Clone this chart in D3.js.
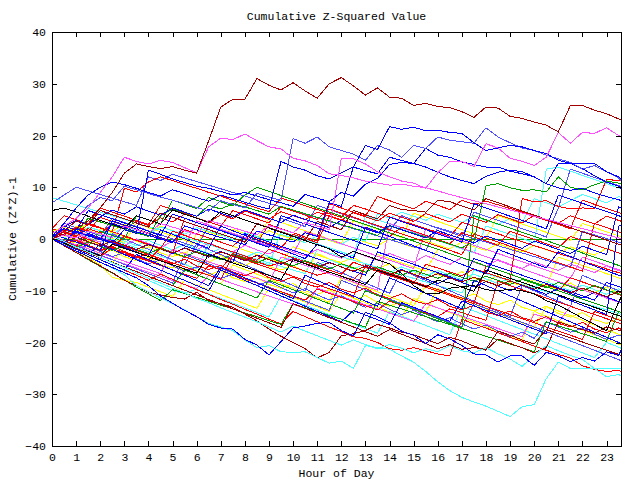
<!DOCTYPE html>
<html><head><meta charset="utf-8">
<script src="https://cdn.jsdelivr.net/npm/d3@7"></script>
<style>
body{margin:0;background:#fff}
svg{display:block}
text{font-family:"Liberation Mono","DejaVu Sans Mono",monospace;font-size:11.5px;fill:#000}
</style>
</head><body><svg id="c" width="640" height="480"></svg>
<script>
const title = "Cumulative Z-Squared Value";
const xLabel = "Hour of Day";
const yLabel = "Cumulative (Z*Z)-1";
const hours = [0,0.5,1,1.5,2,2.5,3,3.5,4,4.5,5,5.5,6,6.5,7,7.5,8,8.5,9,9.5,10,10.5,11,11.5,12,12.5,13,13.5,14,14.5,15,15.5,16,16.5,17,17.5,18,18.5,19,19.5,20,20.5,21,21.5,22,22.5,23,23.5,23.75];
const xTicks = [0,1,2,3,4,5,6,7,8,9,10,11,12,13,14,15,16,17,18,19,20,21,22,23];
const yTicks = [-40,-30,-20,-10,0,10,20,30,40];

const darkRedTop = [0,1,2,3.5,6,9,12.7,14.5, 14,13.6,14,13.3,12.7,19,25.5,27, 27,31,29.7,28.8,30.2,28.6,27.2,30, 31.2,29.6,27.8,29.2,27.4,27.2,25.8,26.2, 25.6,25.4,24.6,23.5,25.5,25.3,23.7,23.3, 22.6,22,20.7,25.8,25.8,24.9,24.2,23.2, 22.6];
const magentaA = [1,2.5,4,6,9,12,15.8,15, 14.5,15.2,14.8,13.8,12.8,17.8,19.5,19.2, 20.3,19,17.8,17.4,15.6,15.1,14.2,12.6, 12.3,11.8,11.2,10.8,10.4,10.6,10.2,9.9, 9.3,8.6,8,7.4,6.8,6.2,5.6,5, 4.4,3.8,3.2,2.6,2,1.4,0.8,0.2, -0.1];
const magentaB = [0,0.8,0.2,1.5,1,0.3,2.5,1.8, 1.1,3,2.3,1.6,0.9,3.6,2.9,2.2, 1.5,0.8,2.6,1.9,1.2,3.2,2.5,1.8, 15.6,15.5,14.5,13,12,11.2,10.8,9.8, 12.8,15,15,14,18.4,17.6,15.6,15, 14.2,15.8,20.6,18.5,20.6,20.4,21.5,20, 19.4];
const blueLow = [0,-1.2,-2.3,-3.4,-4.5,-5.5,-6.5,-7.5, -9,-11,-12.4,-13.8,-15,-16.5,-17.2,-17.4, -19.4,-20.5,-22.4,-19.8,-17.2,-16.8,-16.3,-16.1, -17.7,-18.7,-14.2,-15,-16.2,-17.8,-18.6,-20.2, -18.5,-19.3,-20.6,-22.2,-22.4,-23.8,-22.6,-22.6, -24.4,-21.9,-22.6,-23.7,-22.9,-23.6,-21.8,-22.5, -20];
const cyanBottom = [0,-1.1,-2.3,-3.4,-4.5,-5.6,-6.9,-9, -10.2,-11.4,-12.5,-13.7,-15,-16.3,-17,-17.7, -19.5,-21,-20.6,-21.8,-21.9,-21.8,-22.9,-24, -23.6,-25,-20.6,-21,-21.3,-22.6,-23.8,-25.6, -27.6,-29.3,-30.6,-31.5,-32.3,-33.3,-34.3,-32.4, -32,-27,-23.8,-25,-25,-25,-25,-25, -25];
const cyanLow = [0.5,-0.5,-1.6,-2.5,-3.6,-4.6,-5.5,-6.6, -7.6,-8.5,-9.5,-10.4,-11.5,-12.3,-13.3,-14.2, -15.1,-16,-17,-18,-16.8,-17.8,-18.7,-19.6, -20.5,-19.5,-20.4,-21.2,-20.4,-21.1,-22,-21.2, -21.8,-20.6,-21.6,-22,-21,-22.2,-23.2,-24.6, -22.5,-20.6,-21.6,-22.5,-23.3,-25,-26.6,-26.2, -26.8];
const darkRedLow = [0,-1.3,-2.6,-3.9,-5.2,-6.5,-8,-9, -10.3,-10.8,-11.3,-11.6,-10.3,-11.9,-12.5,-13.2, -14.5,-15.8,-17.4,-18.8,-20,-21.2,-23,-21.9, -18.7,-18.3,-17.7,-16.5,-17.2,-18,-18.5,-19.4, -20.2,-19,-19.7,-20.7,-21.5,-19.3,-20.2,-21, -22,-21,-16,-16.8,-17.5,-18.2,-17,-17.6, -18];
const blueHigh = [0.5,3,6,8.5,10,11,10.5,9.8, 9,8.3,9.5,8.8,8,7.3,8.5,7.8, 7.1,6.4,5.8,15,13.9,13.3,12.2,11.6, 12.8,13.9,18.1,17.3,21.7,21.2,21.6,20.9, 21,20.6,20.4,18.6,17.1,17.6,18.1,17.8, 17.1,16.5,15.2,14.6,14.6,14.6,13,12, 11];
const lightBlueHigh = [1,2.5,4,6.5,8,7.4,10.2,9.5, 8.8,8.1,7.5,6.8,6.1,5.4,7.4,6.7, 6,8.8,8.1,7.5,19.4,18.5,19.7,17.8, 17.1,16.4,15.2,18.1,17.2,15.8,18.1,17.5, 19.7,19.1,18.8,18.5,21.5,19.7,18.6,17.6, 17.1,16.2,15.5,14.8,13.5,14.2,13,11.8, 10.5];
const blueC = [0,-0.8,1.5,0.8,0,3,2.2,1.4, 0.7,0,-0.7,2.5,1.8,1,0.3,-0.4, -1.1,1.5,0.8,0.1,-0.6,1.2,0.5,7, 6.3,13.9,13.2,12.6,15.8,15.2,14.6,17.5, 16.2,15.8,14.9,14.4,13.9,13.9,13.1,12.6, 12,10.7,14.6,14.6,13.6,12.2,11,10.2, 9];
const blueD = [0.3,2,1.3,0.6,-0.1,-0.8,1.8,1.1, 13.3,12.5,11.6,10.9,10.2,9.8,9.2,8.5, 9,8.3,7.6,7,6.3,8.6,7.9,7.2, 9,8.3,10.6,11.7,14.4,14.8,14.6,13.9, 12.9,12,11.3,10.7,12.1,12.9,13.3,13, 12,10.7,9.9,9.4,9.8,8.9,8.2,7.6, 7.2];
const blackA = [5.5,6,5.2,4.4,3.6,2.8,2,4.5, 3.7,2.9,5.6,4.8,4,3.2,5.3,4.5, 3.7,2.9,2.1,1.3,0.5,-0.3,-1.1,-1.9, -3.5,-2.4,-3.2,-4,-4.8,-6.7,-9,-10.5, -10.6,-9.5,-9.2,-9,-9.8,-10,-9.7,-10, -10.6,-11.9,-12.8,-14,-15.3,-16.5,-17.7,-12.2, -10];
const redA = [0.5,1.8,1.1,2.8,2.1,1.4,9.8,9.1, 11,12,11.3,10.5,9.8,9,8.3,7.5, 6.8,6,5.3,7.9,7.2,6.4,5.7,4.9, 4.2,6.5,5.8,5,4.3,3.5,2.8,2, 1.3,0.5,3.2,2.5,1.7,1,0.2,-0.5, -1.3,-2,-2.8,-3.5,-4.3,-5,-5.8,-6.5, -6.9];
const redB = [0,-1,-0.2,-1.2,-2.1,-1.4,-2.4,-3.3, -4.1,-1.7,-2.6,-3.5,-4.2,-5.1,-5.9,-2.8, -3.6,-4.4,-5.2,-4.6,-5.4,-6.2,-7,-6.4, -7.2,-7.9,-5.5,-6.3,-7.1,-7.8,-8.6,-4.9, -5.6,-6.4,-7.1,-5.8,-6.5,-7.3,-8,7.8, 7.2,7.4,6.3,5.8,6,5.9,11.5,11.3, 11.9];
const redC = [1.5,0.7,2.3,1.5,4.2,3.4,2.6,1.8, 1,0.2,-0.6,1.8,1,0.2,-0.6,-1.4, 0.7,-0.1,-0.9,-1.7,0.9,0.1,-0.7,4.5, 3.7,2.9,2.1,1.3,0.5,2.3,1.5,0.7, -0.1,-0.9,1.2,0.4,-0.4,-1.2,1.5,0.7, -0.1,-0.9,-1.7,0.5,-0.3,-1.1,-1.9,-2.7, -3.1];
const redD = [0,-0.8,-1.6,-2.5,-3.3,-1.8,-2.6,-3.5, -4.3,-5.1,-6,-6.8,-7.6,-5.2,-6,-6.9, -7.7,-8.5,-9.4,-10.2,-11,-11.8,-9.7,-10.5, -11.3,-12.1,-12.9,-13.7,-12,-12.8,-13.6,-14.3, -15,-13.5,-14.2,-15,-15.7,-8.2,-9,-9.8, -10.6,-11.4,-12.2,-13,-13.8,-14.6,-15.4,-16.2, -16.6];
const redE = [0,-1,-2,-3,-4,-5,-6,-7, -8,-6.8,-7.8,-8.8,-9.8,-10.7,-11.7,-12.6, -13.6,-14.5,-15.5,-16.4,-14,-15,-16,-17, -17.9,-18.9,-19.2,-20,-21.2,-21.5,-21,-21.6, -22.2,-22.6,-15.5,-16.4,-17.2,-18.1,-19,-19.8, -20.7,-21.5,-22.3,-23,-24.5,-25.2,-25.6,-25.4, -25.8];
const redF = [2,1.2,0.4,3,2.2,1.4,0.6,-0.2, -1,-1.8,1.5,0.7,-0.1,-0.9,-1.7,-2.5, -3.3,-4.1,-2,-2.8,-3.6,-4.4,-5.2,-6, -6.8,-4.5,-5.3,-6.1,-6.9,-7.7,-8.5,-9.3, -10.1,-10.9,-11.7,-12.5,-5.2,-6,-6.8,-7.6, -8.4,-9.2,-10,-7.5,-8.3,-9.1,-9.9,-10.7, -11.2];
const redG = [0,1.5,0.7,-0.1,-0.9,-1.7,0.5,-0.3, -1.1,-1.9,-2.7,4,3.2,2.4,1.6,0.8, 0,-0.8,2.8,2,1.2,0.4,-0.4,6.8, 6,5.2,4.4,8.2,7.4,6.6,5.8,7.3, 6.5,5.7,7.5,6.7,7.3,6.6,5.9,5.2, 4.4,3.6,2.8,2,7.5,6.7,5.9,5.1, 4.7];
const darkRedB = [0,1.5,3.5,2.7,5.5,4.7,3.9,3.1, 2.3,5,4.2,3.4,2.6,1.8,1,0.2, -0.6,3,2.2,1.4,0.6,-0.2,3.4,2.6, 1.8,5.5,4.7,3.9,6.5,5.7,5.5,5.2, 7.5,7.2,6.4,5.6,7.8,7,6.2,5.4, 4.6,3.8,3,2.2,1.4,0.6,-0.2,-1, -1.4];
const darkRedC = [0,-0.9,-1.8,-2.7,-3.6,-4.5,-5.4,-6.3, -7.2,-8.1,-9,-9.9,-10.8,-11.7,-12.6,-13.5, -14.4,-15.3,-16.2,-17.1,-12.5,-13.4,-14.3,-15.2, -16.1,-17,-17.9,-18.8,-17.5,-18.4,-19.3,-20.2, -21.2,-20.4,-21.3,-21,-21.3,-17.8,-18.6,-19.5, -20.3,-17.5,-18.3,-19.1,-19.9,-20.7,-21.5,-22.3, -22.7];
const blueE = [0,-0.9,2,1.1,0.2,-0.7,-1.6,-2.5, -3.4,1.8,0.9,0,-0.9,-1.8,2.5,1.6, 0.7,-0.2,-1.1,-2,-2.9,-3.8,-1,-1.9, -2.8,-3.7,2.3,1.4,0.5,-0.4,-1.3,-2.2, -3.1,-4,-4.9,-5.8,-6.7,-2,-2.9,-3.8, -4.7,-5.6,-2.5,-3.4,-4.3,-5.2,-6.1,-7, -7.4];
const blueF = [0,-1,-2,-3,-1,-2,-3,-4, -5,-6,-7,-8,-9,-10,-6,-7, -8,-9,-10,-11,-12,-13,-14,-15, -16,-13.8,-14.7,-15.6,-16.5,-12.3,-13.2,-14.1, -15,-15.9,-12,-12.9,-13.8,-14.7,-15.6,-16.5, -17.4,-18.3,-11,-11.9,-12.8,-13.7,-14.6,2.5, 3];
const blueG = [1,0.2,-0.6,-1.4,-2.2,3.5,2.7,1.9, 1.1,0.3,-0.5,-1.3,-2.1,-2.9,-3.7,-4.5, 1,0.2,-0.6,-1.4,-2.2,-3,-3.8,-4.6, -5.4,-6.2,-7,-2.5,-3.3,-4.1,-4.9,-5.7, -6.5,-7.3,-8.1,-3.8,-4.6,-5.4,-6.2,-7, -7.8,-8.6,-9.4,-10.2,-11,-11.8,-8.4,-9.2, -9.6];
const blueH = [0,2.5,1.7,5.5,4.7,3.9,3.1,2.3, 1.5,0.7,4.8,4,3.2,2.4,1.6,0.8, 0,-0.8,-1.6,4.5,3.7,2.9,2.1,1.3, 0.5,-0.3,-1.1,-1.9,4.2,3.4,2.6,1.8, 1,0.2,-0.6,6.8,6,5.2,4.4,3.6, 2.8,2,8.5,7.7,6.9,6.1,5.3,4.5, 4.1];
const lightBlueC = [0,-1,-2,-3,-4,1,0,-1, -2,-3,-4,-5,-1,-2,-3,-4, -5,-6,-7,-8,-9,-10,-4.5,-5.5, -6.5,-7.5,-8.5,-9.5,-10.5,-6,-7,-8, -9,-10,-11,-12,-13,-14,-15,-9, -10,-11,-12,-13,-7,-8,-9,-10, -10.5];
const lightBlueD = [7,8.5,10,9.3,8.6,7.9,7.2,6.5, 12,11.3,12.5,11.8,11.1,10.4,9.7,9, 8.3,7.6,6.9,6.2,5.5,4.8,4.1,3.4, 2.7,2,1.3,0.6,-0.1,-0.8,-1.5,-2.2, 2.2,1.5,0.8,0.1,-0.6,-1.3,-2,-2.7, -3.4,-4.1,-4.8,-5.5,1.5,0.8,0.1,-0.6, -1];
const lightBlueE = [0.5,-0.4,-1.3,-2.2,-3.1,-4,-4.9,-5.8, -6.7,-7.6,-8.5,-3,-3.9,-4.8,-5.7,-6.6, -7.5,-8.4,-9.3,-10.2,-11.1,-12,-12.9,-13.8, -8,-8.9,-9.8,-10.7,-11.6,-12.5,-13.4,-14.3, -15.2,-16.1,-17,-12.5,-13.4,-14.3,-15.2,-16.1, -17,-17.9,-18.8,-19.7,-20.6,-21.5,-22.4,-23.3, -23.8];
const lightBlueF = [0.5,3,2.2,1.4,0.6,4,3.2,2.4, 1.6,0.8,0,-0.8,-1.6,2.5,1.7,0.9, 0.1,-0.7,-1.5,4,3.2,2.4,6.5,5.7, 4.9,4.1,3.3,2.5,1.7,4.5,3.7,2.9, 2.1,1.3,0.5,5.2,4.4,3.6,2.8,2, 1.2,0.4,6,13.5,12.7,11.9,11.1,10.3, 9.9];
const lightBlueG = [0,-1,-2,-1.2,-2.4,-3.4,-2.6,-3.8, -4.8,-4,-5.2,-6.2,-5.4,-6.6,-7.6,-6.8, -8,-9,-8.2,-9.4,-10.4,-9.6,-10.8,-11.8, -11,-12.2,-13.2,-12.4,-13.6,-14.6,-13.8,-15, -16,-15.2,-16.4,-17.4,-16.6,-17.8,-18.8,-18, -19.2,-16,-17,-18,-17.2,-18.4,-19.4,-18.6, -19];
const magentaC = [0,-0.8,-1.6,-2.4,-3.2,-4,-4.8,-5.6, -6.4,-7.2,-8,-8.8,-9.6,-7,-7.8,-8.6, -9.4,-10.2,-11,-11.8,-12.6,-13.4,-9.5,-10.3, -11.1,-11.9,-12.7,-13.5,-14.3,-15.1,-15.9,-12.5, -13.3,-14.1,-14.9,-15.7,-16.5,-17.3,-18.1,-18.9, -14.5,-15.3,-16.1,-13,-13.8,-14.6,-15.4,-16.2, -16.6];
const magentaD = [0,1.8,1,0.2,-0.6,3.5,2.7,1.9, 1.1,0.3,-0.5,-1.3,3.5,2.7,1.9,1.1, 0.3,-0.5,-1.3,-2.1,-2.9,1.5,0.7,-0.1, -0.9,-1.7,-2.5,-3.3,-4.1,-4.9,-5.7,2, 1.2,0.4,-0.4,-1.2,-2,-2.8,-3.6,-4.4, -5.2,-6,-6.8,-7.6,-3.5,-4.3,-5.1,-5.9, -6.3];
const magentaE = [0.5,-0.3,-1.1,-1.9,-2.7,-3.5,-4.3,-5.1, -5.9,-6.7,-2,-2.8,-3.6,-4.4,-5.2,-6, -6.8,-7.6,-8.4,-3.5,-4.3,-5.1,-5.9,-6.7, -7.5,-8.3,-9.1,-9.9,3,2.2,1.4,0.6, -0.2,-1,-1.8,-2.6,-3.4,-4.2,-5,-5.8, -6.6,-7.4,-8.2,-9,-9.8,-10.6,-11.4,-12.2, -12.6];
const magentaF = [0,0.8,-0.1,-0.9,0.4,-0.5,-1.3,0, -0.9,-1.7,-0.4,-1.3,-2.1,-0.8,-1.7,-2.5, -1.2,-2.1,-2.9,-1.6,-2.5,-3.3,-2,-2.9, -3.7,-2.4,-3.3,-4.1,-2.8,-3.7,-4.5,-3.2, -4.1,-4.9,-3.6,-4.5,-5.3,-4,-4.9,-5.7, -4.4,-5.3,-6.1,-4.8,-5.7,-6.5,-5.2,-6.1, -6.5];
const yellowA = [0,-1.2,-2.4,-3.6,-5,-7.4,-8,-8.4, -9.3,-10.2,-11.1,-8,-8.9,-9.8,-10.7,-11.6, -12.5,-13.4,-9.5,-10.4,-11.3,-12.2,-13.1,-14, -10.5,-11.4,-12.3,-13.2,-14.1,-15,-11.5,-12.4, -13.3,-14.2,-15.1,-16,-16.9,-17.8,-18.7,-19.6, -14,-14.9,-15.8,-16.7,-17.6,-18.5,-19.4,-20.3, -20.7];
const yellowB = [0,0.8,0,-0.8,2,1.2,0.4,-0.4, -1.2,-2,-2.8,-3.6,1,0.2,-0.6,-1.4, -2.2,-3,-3.8,-4.6,-1.5,-2.3,-3.1,-3.9, -4.7,-5.5,-6.3,-3,-3.8,-4.6,-5.4,-6.2, -2,-2.8,-3.6,-4.4,-5.2,-6,-6.8,-7.6, -8.4,-9.2,-3.5,-4.3,-5.1,-5.9,-6.7,-7.5, -7.9];
const yellowC = [1,0.2,2.5,1.7,0.9,0.1,-0.7,3, 2.2,1.4,0.6,-0.2,-1,2.5,1.7,0.9, 0.1,-0.7,4,3.2,2.4,1.6,0.8,0, -0.8,3.5,2.7,1.9,1.1,0.3,5,4.2, 3.4,2.6,1.8,1,0.2,4.5,3.7,2.9, 2.1,1.3,0.5,-0.3,3,2.2,1.4,0.6, 0.2];
const yellowD = [0,-0.9,-1.8,-2.7,-3.6,-4.5,-1.5,-2.4, -3.3,-4.2,-5.1,-6,-6.9,-7.8,-8.7,-5, -5.9,-6.8,-7.7,-8.6,-9.5,-10.4,-11.3,-12.2, -7.5,-8.4,-9.3,-10.2,-11.1,-12,-12.9,-9, -9.9,-10.8,-11.7,-12.6,-13.5,-14.4,-15.3,-16.2, -17.1,-13,-13.9,-14.8,-15.7,-16.6,-17.5,-18.4, -18.8];
const yellowE = [0,-0.5,0.8,-0.2,-1.1,-0.4,-1.6,-2.3, -1.5,-2.7,-3.4,-2.6,-3.9,-4.5,-3.2,-4.4, -5.1,-4,-5.3,-6,-5.1,-6.4,-2.8,-3.9, -4.5,-3.6,-4.9,-5.7,-4.8,-6.1,-6.8,-5.6, -6.9,-7.5,-6.3,-7.6,-8.2,-7.1,-8.4,-9, -7.8,-9.1,-9.7,-8.5,-9.8,-10.4,-9.2,-10.5, -11];
const yellowF = [1.5,2.3,1.4,3.1,2.2,1.5,2.8,1.9, 1.2,2.5,1.6,0.9,2.2,1.3,0.6,1.9, 1,0.3,1.6,0.7,0,-0.7,0.6,-0.3, -1,0.3,-0.6,-1.3,0,-0.9,-1.6,-0.3, -1.2,-1.9,-0.6,-1.5,-2.2,-0.9,-1.8,-2.5, -1.2,-2.1,-2.8,-1.5,-2.4,-3.1,-1.8,-2.7, -3.2];
const yellowG = [0,-1.1,-0.6,-1.9,-2.8,-2.1,-3.4,-4.2, -3.5,-4.9,-5.6,-4.8,-6.2,-6.9,-6.1,-7.5, -8.2,-7.4,-8.8,-9.5,-8.6,-10,-10.7,-9.8, -11.2,-11.9,-10.9,-12.3,-13,-12,-13.4,-14.1, -9.5,-10.8,-11.5,-10.6,-12,-12.7,-11.8,-13.2, -13.9,-13,-14.4,-15.1,-14.2,-15.6,-16.3,-15.4, -16];
const cyanHighStart = [8,7.3,6.6,5.9,5.2,4.5,3.8,3.1, 2.4,1.7,1,0.3,-0.4,-1.1,-1.8,-2.5, -3.2,-3.9,-4.6,-5.3,-6,-6.7,-2,-2.7, -3.4,-4.1,-4.8,-5.5,-6.2,-6.9,-7.6,-8.3, -9,-9.7,-10.4,-6,-6.7,-7.4,-8.1,-8.8, -9.5,-10.2,-10.9,-11.6,-12.3,-13,-13.7,-14.4, -14.8];
const cyanLateJump = [0,-0.8,-1.6,1.5,0.7,-0.1,-0.9,-1.7, -2.5,-3.3,-4.1,-4.9,-5.7,-1,-1.8,-2.6, -3.4,-4.2,-5,1.5,0.7,-0.1,-0.9,-1.7, -2.5,-3.3,4.5,3.7,2.9,2.1,1.3,0.5, -0.3,-1.1,-1.9,-2.7,2.5,1.7,0.9,0.1, -0.7,13.5,13.9,13.1,12.3,11.5,10.7,9.9, 9.5];
const cyanMid = [0,-1,-2,-3,-4,-5,-6,-7, -8,-9,-10,-10.5,-9.7,-10.6,-11.5,-12.4, -13.3,-14.2,-15.1,-11,-11.9,-12.8,-13.7,-14.6, -15.5,-16.4,-17.3,-18.2,-14,-14.9,-15.8,-16.7, -17.6,-18.5,-13,-13.9,-14.8,-15.7,-16.6,-17.5, -18.4,-19.3,-20.2,-21.1,-22,-22.9,-20,-20.9, -21.4];
const cyanD = [1,0.2,1.2,0.3,-0.6,0.5,-0.4,-1.3, -0.3,-1.2,-2.1,-1,-1.9,-2.8,-1.8,-2.7, -3.6,-2.5,-3.4,-4.3,-3.3,-4.2,-5.1,-4, -4.9,-5.8,-4.7,-5.6,-6.5,-5.4,-6.3,-7.2, -6.1,-7,-7.9,-6.8,-7.7,-8.6,-7.5,-8.4, -9.3,-8.2,-9.1,-10,-8.9,-9.8,-10.7,-9.6, -10.2];
const cyanE = [0,1.5,0.8,2.3,1.6,0.9,2.4,1.7, 1,2.3,1.6,0.9,2.2,1.5,0.8,-0.1, 1.2,0.5,-0.4,0.9,0.2,-0.7,0.6,-0.1, -1,0.3,-0.4,4.8,4,5.2,4.4,3.6, 4.8,4,3.2,4.4,3.6,2.8,4,3.2, 7.8,7,6.2,7.4,8.6,7.8,7,8.2, 7.8];
const greenZero = [0,0,0,0,0,0,0,0, 0,0,0,0,0,0,0,0, 0,0,0,0,0,0,0,0, 0,0,0,0,0,0,0,0, 0,0,0,0,0,0,0,0, 0,0,0,0,0,0,0,0, 0];
const greenA = [0.5,2,1.3,4,3.3,2.6,1.9,1.2, 0.5,4.5,5.8,5.1,4.4,6.5,5.8,6.8, 6.2,5.5,4.8,6.3,5.6,4.9,4.2,3.5, 2.8,2.1,1.4,0.7,2.5,1.8,1.1,0.4, -0.3,-1,-1.7,-0.5,10.3,10.7,9.9,9.4, 9.5,9.1,12,10,9.5,10.5,11.2,10.8, 10.5];
const greenB = [0,-0.9,-1.8,-2.7,-3.6,-4.5,-5.4,-6.3, -7.2,-8.1,-9,-6,-6.9,-7.8,-8.7,-9.6, -10.5,-11.4,-8,-8.9,-9.8,-10.7,-11.6,-12.5, -13.4,-14.3,-10,-10.9,-11.8,-12.7,-13.6,-14.5, -15.4,-16.3,-17.2,4.5,3.7,2.9,2.1,1.3, 0.5,-0.3,-1.1,-1.9,-2.7,-3.5,-4.3,-5.1, -5.5];
const greenC = [0,-1.3,-2.6,-4,-5.3,-6.6,-7.9,-9.3, -10.6,-11.9,-9.8,-10.5,-11.3,-12,-12.8,-13.5, -14.3,-15,-15.8,-16.5,-12.5,-13.3,-14,-14.8, -15.5,-16.3,-17,-12,-12.8,-13.5,-14.3,-15, -15.8,-16.5,-17.3,-18,-18.8,-19.5,-20.3,-21, -21.8,-16,-16.8,-17.5,-18.3,-19,-19.8,-14, -14.5];
const greenD = [1,0.2,-0.6,-1.4,1.5,0.7,-0.1,4.5, 3.7,2.9,7.5,6.7,5.9,8,7.2,6.4, 8.5,10,9.2,8.4,7.6,6.8,6,5.2, 4.4,3.6,2.8,2,1.2,0.4,-0.4,-1.2, -2,-2.8,-3.6,-4.4,-5.2,-6,-6.8,-7.6, -8.4,-9.2,-10,-10.8,-11.6,-12.4,-13.2,-14, -14.4];
const greenE = [0,-0.8,-1.6,-0.6,-1.4,-2.2,-1.2,-2, -2.8,-1.8,-2.6,-3.4,-2.4,-3.2,-4,-3, -3.8,-4.6,-3.6,-4.4,-5.2,-4.2,-5,-5.8, -4.8,-5.6,-6.4,-5.4,-6.2,-7,-6,-6.8, -7.6,-6.6,-7.4,-8.2,-7.2,-8,-8.8,-7.8, -8.6,-9.4,-8.4,-9.2,-10,-9,-9.8,-10.6, -11];
const blackB = [0,-0.8,-1.6,-2.4,-3.2,-1,-1.8,-2.6, -3.4,-4.2,-5,-5.8,-6.6,-3,-3.8,-4.6, -5.4,-6.2,-7,-7.8,-4,-4.8,-5.6,-6.4, -7.2,-8,-8.8,-6,-6.8,-7.6,-8.4,-9.2, -8,-8.5,-9.3,-10.1,-6,-6.8,-7.6,-8.4, -9.2,-10,-10.8,-11.6,-12.4,-13.2,-14,-14.8, -15.2];
const redH = [0,-0.6,-1.4,1,0.2,-0.6,-1.4,-2.2, -3,-3.8,-4.6,-5.4,-6.2,-7,-7.8,-3.2, -4,-4.8,-5.6,-6.4,-7.2,-8,-8.8,-9.6, -10.4,-11.2,-5,-5.8,-6.6,-7.4,-8.2,-9, -9.8,-10.6,-11.4,-12.2,-13,-13.8,-14.6,-15.4, -16.2,-17,-17.8,-18.6,-19.4,-14,-14.8,-15.6, -16];
const redI = [2,4.5,3.7,2.9,6,5.2,4.4,3.6, 2.8,6.5,5.7,4.9,4.1,3.3,2.5,5.5, 4.7,3.9,3.1,6.2,5.4,4.6,3.8,5.8, 5,4.2,3.4,2.6,1.8,1,0.2,-0.6, -1.4,-2.2,-3,1,0.2,-0.6,-1.4,-2.2, -3,-3.8,-4.6,-5.4,-6.2,3,2.2,1.4, 1];
const redJ = [0,-0.9,-0.3,-1.5,-2.3,-1.6,-2.9,-3.6, -2.8,-4.1,-4.8,-3.9,-5.2,-5.9,-5.1,-6.4, -7.1,-6.2,-7.5,-8.2,-7.3,-8.6,-9.3,-8.4, -9.7,-10.4,-9.5,-10.8,-11.5,-10.6,-11.9,-12.6, -11.7,-13,-13.7,-12.8,-14.1,-14.8,-13.9,-15.2, -15.9,-15,-16.3,-17,-16.1,-17.4,-18.1,-17.2, -17.8];
const redK = [0.5,1.3,0.5,2,1.2,2.7,1.9,3.4, 2.6,4.1,3.3,4.8,4,3.2,4.7,3.9, 5.4,4.6,3.8,5.3,4.5,3.7,5.2,4.4, 3.6,5.1,4.3,3.5,5,4.2,3.4,4.9, 4.1,3.3,4.8,4,3.2,4.7,3.9,3.1, 4.6,3.8,3,4.5,3.7,2.9,4.4,3.6, 3.2];
const blueI = [0,-1,-2,-3,-4,-5,-6,-3, -4,-5,-6,-7,-8,-9,-5.5,-6.5, -7.5,-8.5,-9.5,-10.5,-11.5,-7,-8,-9, -10,-11,-12,-13,-7.5,-8.5,-9.5,-10.5, -11.5,-12.5,-13.5,-8,-9,-10,-11,-12, -13,-14,-15,-16,-17,-18,-19,-20, -20.5];
const blueJ = [0,-0.7,0.4,-0.5,-1.4,-0.3,-1.2,-2.1, -1,-1.9,-2.8,-1.7,-2.6,-3.5,-2.4,-3.3, -4.2,-3.1,-4,-4.9,-3.8,-4.7,-5.6,-4.5, -5.4,-6.3,-5.2,-6.1,-7,-5.9,-6.8,-7.7, -8.6,-7.5,-8.4,-9.3,-8.2,-9.1,-10,-8.9, -9.8,-10.7,-9.6,-10.5,-11.4,-10.3,-11.2,-12.1, -12.5];
const blueK = [1,2.4,3.6,2.8,4.3,5.6,4.8,6.2, 5.4,4.6,6,5.2,4.4,5.8,5,4.2, 5.6,4.8,4,3.2,4.6,3.8,3,2.2, 3.6,2.8,2,1.2,2.6,1.8,1,0.2, 1.6,0.8,0,-0.8,0.6,-0.2,-1,-1.8, -0.4,-1.2,-2,-2.8,-1.4,-2.2,-3,6.2, 6];
const darkRedD = [0,-0.6,0.3,-0.5,-1.3,-0.4,-1.2,-2, -1.1,-1.9,-2.7,-1.8,-2.6,-3.4,-2.5,-3.3, -4.1,-3.2,-4,-4.8,-3.9,-4.7,-5.5,-4.6, -5.4,-6.2,-5.3,-6.1,-6.9,-6,-6.8,-7.6, -6.7,-7.5,-8.3,-7.4,-8.2,-9,-8.1,-8.9, -9.7,-8.8,-9.6,-10.4,-9.5,-10.3,-11.1,-10.2, -10.6];

const seriesValues = [greenZero, yellowA, yellowB, yellowC, yellowD, yellowE, yellowF, yellowG,
  cyanHighStart, cyanLateJump, cyanMid, cyanD, cyanE,
  magentaC, magentaD, magentaE, magentaF, lightBlueC, lightBlueD, lightBlueE, lightBlueF, lightBlueG,
  redA, redB, redC, redD, redE, redF, redG, redH, redI, redJ, redK,
  greenA, greenB, greenC, greenD, greenE, blueE, blueF, blueG, blueH, blueI, blueJ, blueK,
  darkRedB, darkRedC, darkRedD, darkRedLow, blackA, blackB,
  cyanLow, cyanBottom, blueLow, blueC, blueD, lightBlueHigh, blueHigh, magentaB, magentaA, darkRedTop];
const seriesColors = ["#00a000","#ffff00","#ffff00","#ffff00","#ffff00","#ffff00","#ffff00","#ffff00",
  "#50ffff","#50ffff","#50ffff","#50ffff","#50ffff",
  "#ff50ff","#ff50ff","#ff50ff","#ff50ff","#5050ff","#5050ff","#5050ff","#5050ff","#5050ff",
  "#ff0000","#ff0000","#ff0000","#ff0000","#ff0000","#ff0000","#ff0000","#ff0000","#ff0000","#ff0000","#ff0000",
  "#00a000","#00a000","#00a000","#00a000","#00a000","#0000ff","#0000ff","#0000ff","#0000ff","#0000ff","#0000ff","#0000ff",
  "#a00000","#a00000","#a00000","#a00000","#000000","#000000",
  "#50ffff","#50ffff","#0000ff","#0000ff","#0000ff","#5050ff","#0000ff","#ff50ff","#ff50ff","#a00000"];

const plotLeft = 52, plotRight = 621, plotTop = 32, plotBottom = 446;
const svg = d3.select("#c");
const x = d3.scaleLinear().domain([0, 23.6]).range([plotLeft, plotRight]);
const y = d3.scaleLinear().domain([-40, 40]).range([plotBottom, plotTop]);

svg.append("defs").append("clipPath").attr("id", "clip")
  .append("rect").attr("x", plotLeft).attr("y", plotTop).attr("width", plotRight - plotLeft).attr("height", plotBottom - plotTop);

const line = d3.line()
  .defined((d, i) => i < hours.length)
  .x((d, i) => x(hours[i]))
  .y(d => y(d));

svg.append("g").attr("clip-path", "url(#clip)")
  .selectAll("path").data(seriesValues).join("path")
  .attr("d", d => line(d))
  .attr("fill", "none")
  .attr("stroke", (d, i) => seriesColors[i])
  .attr("stroke-width", 1)
  .attr("shape-rendering", "crispEdges");

function styleAxis(g) {
  g.select(".domain").remove();
  g.selectAll("line").attr("stroke", "#000").attr("shape-rendering", "crispEdges");
  g.selectAll("text").attr("font-family", "Liberation Mono, DejaVu Sans Mono, monospace").attr("font-size", "11.5px").attr("fill", "#000");
}
svg.append("g").attr("transform", `translate(0,${plotBottom})`)
  .call(d3.axisBottom(x).tickValues(xTicks).tickSize(-5).tickPadding(7).tickFormat(d3.format("d"))).call(styleAxis);
svg.append("g").attr("transform", `translate(0,${plotTop})`)
  .call(d3.axisTop(x).tickValues(xTicks).tickSize(-5).tickFormat("")).call(styleAxis);
svg.append("g").attr("transform", `translate(${plotLeft},0)`)
  .call(d3.axisLeft(y).tickValues(yTicks).tickSize(-5).tickPadding(6).tickFormat(d3.format("d"))).call(styleAxis);
svg.append("g").attr("transform", `translate(${plotRight},0)`)
  .call(d3.axisRight(y).tickValues(yTicks).tickSize(-5).tickFormat("")).call(styleAxis);

svg.append("rect").attr("x", plotLeft + 0.5).attr("y", plotTop + 0.5)
  .attr("width", plotRight - plotLeft).attr("height", plotBottom - plotTop)
  .attr("fill", "none").attr("stroke", "#000").attr("stroke-width", 1).attr("shape-rendering", "crispEdges");

svg.append("text").attr("x", (plotLeft + plotRight) / 2).attr("y", 20).attr("text-anchor", "middle").text(title);
svg.append("text").attr("x", (plotLeft + plotRight) / 2).attr("y", 477).attr("text-anchor", "middle").text(xLabel);
svg.append("text").attr("transform", `translate(16,${(plotTop + plotBottom) / 2}) rotate(-90)`).attr("text-anchor", "middle").text(yLabel);
</script>
</body></html>
